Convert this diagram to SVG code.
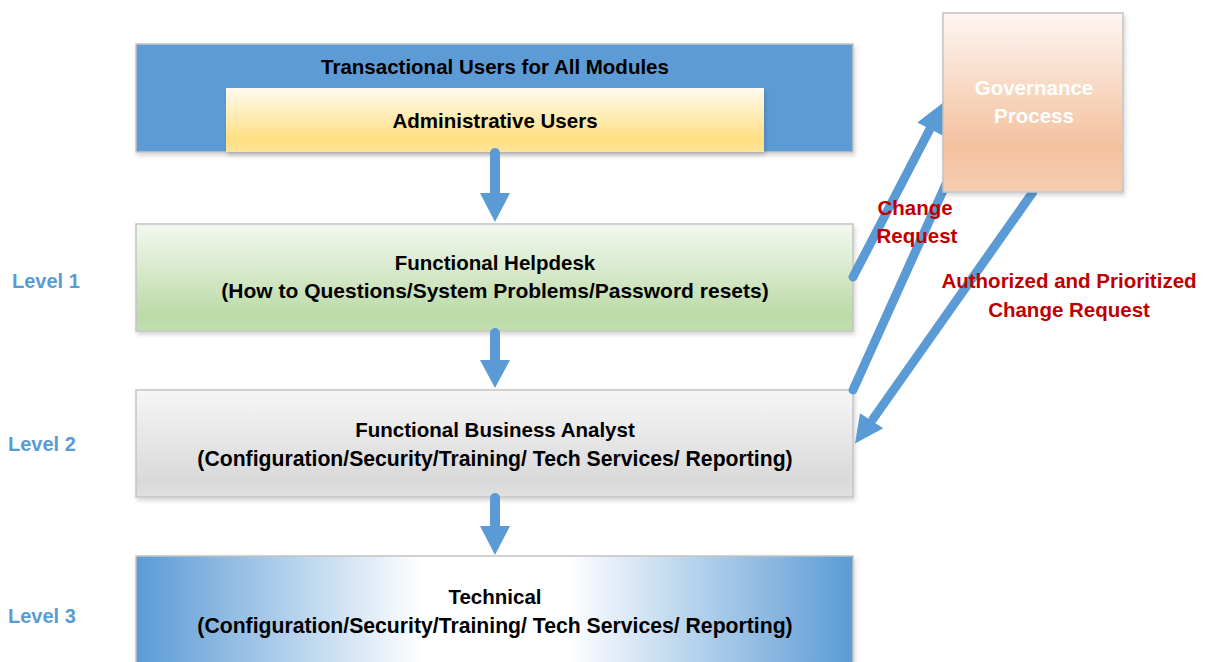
<svg xmlns="http://www.w3.org/2000/svg" width="1207" height="662" viewBox="0 0 1207 662">
  <style>
    text { font-family: "Liberation Sans", Arial, sans-serif; font-weight: bold; font-size: 20.5px; }
    .dark { fill: #000000; text-anchor: middle; }
    .wide { font-size: 21.2px; }
    .white { fill: #ffffff; text-anchor: middle; }
    .red { fill: #c00000; text-anchor: middle; }
    .level { fill: #5b9bd5; font-size: 20px; }
    .box { stroke: #c4c4c4; stroke-width: 1.5; filter: url(#shadow); }
    .wire { stroke: #5b9bd5; stroke-linecap: round; fill: none; }
    .head { fill: #5b9bd5; }
  </style>
  <defs>
    <filter id="shadow" x="-5%" y="-10%" width="110%" height="130%">
      <feDropShadow dx="1.5" dy="3" stdDeviation="2" flood-color="#000000" flood-opacity="0.16"/>
    </filter>
    <linearGradient id="gYellow" x1="0" y1="0" x2="0" y2="1">
      <stop offset="0" stop-color="#fffaf0"/>
      <stop offset="0.8" stop-color="#ffdf82"/>
      <stop offset="1" stop-color="#ffe49c"/>
    </linearGradient>
    <linearGradient id="gGreen" x1="0" y1="0" x2="0" y2="1">
      <stop offset="0" stop-color="#f3f8ef"/>
      <stop offset="0.85" stop-color="#bcdba8"/>
      <stop offset="1" stop-color="#c3dfb0"/>
    </linearGradient>
    <linearGradient id="gGray" x1="0" y1="0" x2="0" y2="1">
      <stop offset="0" stop-color="#f6f6f6"/>
      <stop offset="0.85" stop-color="#d9d9d9"/>
      <stop offset="1" stop-color="#e0e0e0"/>
    </linearGradient>
    <linearGradient id="gTech" x1="0" y1="0" x2="1" y2="0">
      <stop offset="0" stop-color="#5b9bd5"/>
      <stop offset="0.4" stop-color="#ffffff"/>
      <stop offset="0.6" stop-color="#ffffff"/>
      <stop offset="1" stop-color="#5b9bd5"/>
    </linearGradient>
    <linearGradient id="gPeach" x1="0" y1="0" x2="0" y2="1">
      <stop offset="0" stop-color="#fdf6f2"/>
      <stop offset="0.75" stop-color="#f4c19e"/>
      <stop offset="1" stop-color="#f6cdb2"/>
    </linearGradient>
  </defs>

  <rect width="1207" height="662" fill="#ffffff"/>

  <!-- user tier -->
  <g id="users">
    <rect class="box" x="136" y="44" width="717" height="108" fill="#5b9bd5"/>
    <text class="dark" x="495" y="74">Transactional Users for All Modules</text>
  </g>
  <g id="admin-users">
    <rect x="226" y="88" width="538" height="64" fill="url(#gYellow)" filter="url(#shadow)"/>
    <text class="dark" x="495" y="128">Administrative Users</text>
  </g>

  <!-- support levels -->
  <g id="helpdesk">
    <rect class="box" x="136" y="224" width="717" height="107" fill="url(#gGreen)"/>
    <text class="dark" x="495" y="270">Functional Helpdesk</text>
    <text class="dark" x="495" y="298" style="font-size:21px">(How to Questions/System Problems/Password resets)</text>
  </g>
  <g id="analyst">
    <rect class="box" x="136" y="390" width="717" height="107" fill="url(#gGray)"/>
    <text class="dark" x="495" y="437">Functional Business Analyst</text>
    <text class="dark wide" x="495" y="466">(Configuration/Security/Training/ Tech Services/ Reporting)</text>
  </g>
  <g id="technical">
    <rect class="box" x="136" y="556" width="717" height="120" fill="url(#gTech)"/>
    <text class="dark" x="495" y="604">Technical</text>
    <text class="dark wide" x="495" y="633">(Configuration/Security/Training/ Tech Services/ Reporting)</text>
  </g>

  <!-- arrows -->
  <g id="connectors">
    <line class="wire" x1="495" y1="153" x2="495" y2="196" stroke-width="10"/>
    <polygon class="head" points="480,193 510,193 495,222"/>
    <line class="wire" x1="495" y1="333" x2="495" y2="363" stroke-width="10"/>
    <polygon class="head" points="480,360 510,360 495,388"/>
    <line class="wire" x1="495" y1="498" x2="495" y2="529" stroke-width="10"/>
    <polygon class="head" points="480,526 510,526 495,555"/>

    <!-- change request up to governance -->
    <line class="wire" x1="853" y1="277" x2="931" y2="127" stroke-width="9"/>
    <polygon class="head" points="944,102 917.3,122.4 942.7,135.6"/>
    <line class="wire" x1="853" y1="390" x2="946" y2="184" stroke-width="9"/>

    <!-- authorized request back down -->
    <line class="wire" x1="1033" y1="192" x2="873" y2="419" stroke-width="9"/>
    <polygon class="head" points="855,443.5 860,413.3 883.3,428.3"/>
  </g>

  <g id="governance">
    <rect class="box" x="943" y="13" width="180" height="179" fill="url(#gPeach)"/>
    <text class="white" x="1034" y="95">Governance</text>
    <text class="white" x="1034" y="123">Process</text>
  </g>

  <!-- connector labels -->
  <g id="labels">
    <text class="red" x="915" y="215">Change</text>
    <text class="red" x="917" y="243">Request</text>
    <text class="red" x="1069" y="288">Authorized and Prioritized</text>
    <text class="red" x="1069" y="317">Change Request</text>
  </g>

  <!-- level captions -->
  <g id="levels">
    <text class="level" x="12" y="288">Level 1</text>
    <text class="level" x="8" y="451">Level 2</text>
    <text class="level" x="8" y="623">Level 3</text>
  </g>
</svg>
